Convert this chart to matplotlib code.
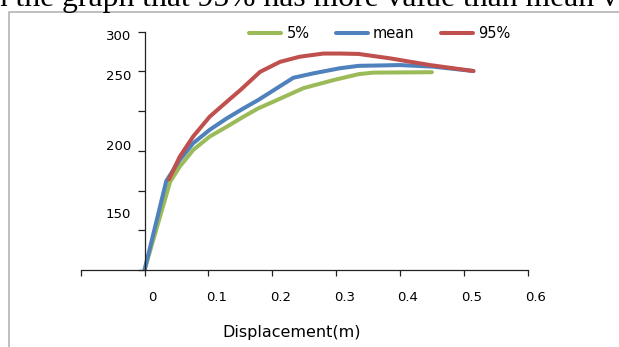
import numpy as np
import matplotlib
matplotlib.use('Agg')
import matplotlib.pyplot as plt
from matplotlib.lines import Line2D
from matplotlib.transforms import ScaledTranslation

# load-displacement curves (displacement in m, load)
disp_p5 = [0.0, 0.040, 0.055, 0.076, 0.102, 0.129, 0.155, 0.178, 0.202, 0.249,
           0.2955, 0.335, 0.358, 0.450]
load_p5 = [0.0, 111, 130, 151, 168, 180.5, 193, 203.5, 212, 229,
           239, 246.5, 248.5, 249]

disp_mean = [0.0, 0.034, 0.055, 0.076, 0.102, 0.129, 0.155, 0.178, 0.233, 0.264,
             0.306, 0.335, 0.400, 0.452, 0.515]
load_mean = [0.0, 112, 138.5, 159.5, 176.5, 191, 203.5, 214, 242, 247.5,
             254, 257, 258, 256, 250.5]

disp_p95 = [0.038, 0.055, 0.076, 0.102, 0.129, 0.150, 0.181, 0.212, 0.243, 0.280,
            0.306, 0.335, 0.384, 0.447, 0.515]
load_p95 = [114, 142.5, 168, 193, 212, 226.5, 249.5, 262, 268.5, 272.5,
            272.5, 272, 266.5, 258, 250.5]

series_names = ['5%', 'mean', '95%']
series_colors = ['#9BBB59', '#4F81BD', '#C0504D']

x_ticks = [-0.1, 0.0, 0.1, 0.2, 0.3, 0.4, 0.5, 0.6]
x_labels = ['', '0', '0.1', '0.2', '0.3', '0.4', '0.5', '0.6']
y_ticks = [0, 50, 100, 150, 200, 250, 300]
y_labels = ['300', '250', '200', '150']

W, H = 619, 347
fig = plt.figure(figsize=(W / 100, H / 100), dpi=100)
fig.patch.set_facecolor('white')

# caption text from the page above the chart, cut off at the top
fig.text(-17 / W, 1 - 6 / H, 'in the graph that 95% has more value than mean value',
         family='Liberation Serif', fontsize=22.8, va='baseline', ha='left', color='black')

# chart frame
frame = Line2D([8.5 / W, 8.5 / W, 1.0], [0.0, 1 - 12 / H, 1 - 12 / H],
               transform=fig.transFigure, color='#b4b4b4', lw=1.2)
fig.add_artist(frame)

ax = fig.add_axes([80.7 / W, (H - 270) / H, 447 / W, 238.3 / H])
ax.set_xlim(-0.1, 0.6)
ax.set_ylim(0, 300)

lw = 2.9
for xs, ys, name, col in zip([disp_p5, disp_mean, disp_p95],
                             [load_p5, load_mean, load_p95],
                             series_names, series_colors):
    ax.plot(xs, ys, color=col, lw=lw, label=name,
            solid_capstyle='round', solid_joinstyle='round')

for s in ['top', 'right']:
    ax.spines[s].set_visible(False)
ax.spines['left'].set_position(('data', 0))
ax.spines['bottom'].set_position(('data', 0))
for s in ['left', 'bottom']:
    ax.spines[s].set_color('#222222')
    ax.spines[s].set_linewidth(0.9)

ax.set_xticks(x_ticks)
ax.set_xticklabels(x_labels)
ax.tick_params(axis='x', direction='out', length=4.3, width=0.9, color='#222222',
               labelsize=9.5, pad=11)
shift = ScaledTranslation(8 / 100, 0, fig.dpi_scale_trans)
for lab in ax.get_xticklabels():
    lab.set_transform(lab.get_transform() + shift)

# y tick marks unlabelled; the labels sit on zero-length minor ticks
ylabel_at = [296, 245.5, 157.5, 72]
ax.set_yticks(y_ticks)
ax.set_yticklabels([''] * len(y_ticks))
ax.set_yticks(ylabel_at, minor=True)
ax.set_yticklabels(y_labels, minor=True)
ax.tick_params(axis='y', which='major', direction='out', length=5, width=0.9, color='#222222')
ax.tick_params(axis='y', which='minor', length=0, labelsize=9.5, pad=9.5)

ax.set_xlabel('Displacement(m)', fontsize=11.5, va='center')
ax.xaxis.set_label_coords((292 - 80.7) / 447, (270 - 333) / 238.3)

ax.legend(loc='center', bbox_to_anchor=(379.7 / W, 1 - 33.5 / H),
          bbox_transform=fig.transFigure, ncol=3, frameon=False,
          fontsize=10.5, handlelength=2.2, handletextpad=0.35,
          columnspacing=1.8, borderpad=0, borderaxespad=0)

fig.savefig('out.png', dpi=100)
